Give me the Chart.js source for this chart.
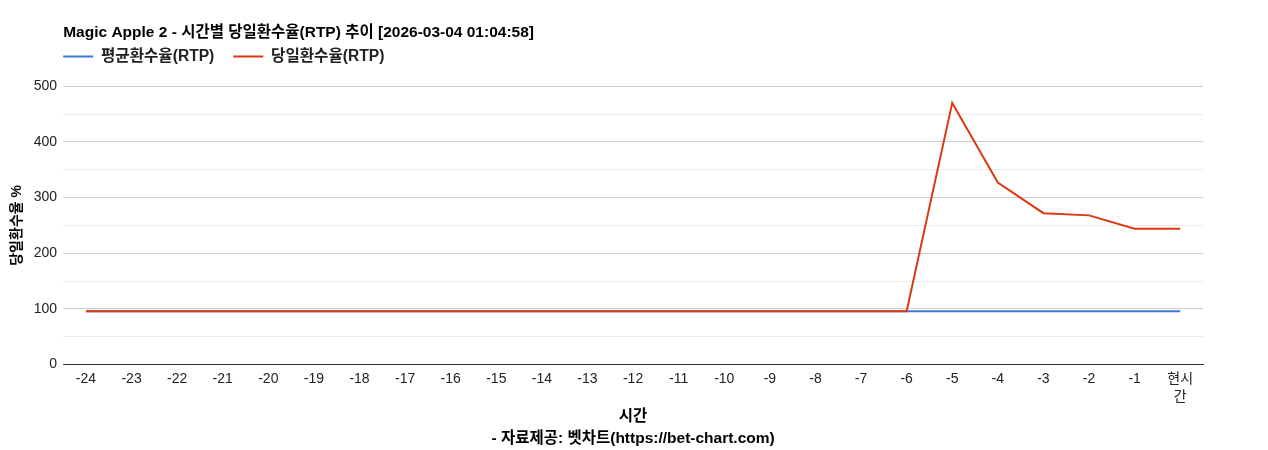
<!DOCTYPE html>
<html>
<head>
<meta charset="utf-8">
<script src="https://cdn.jsdelivr.net/npm/chart.js@4"></script>
<style>
  html, body { margin: 0; padding: 0; background: #fff; }
  #wrap { width: 1268px; height: 450px; }
</style>
</head>
<body>
<div id="wrap"><canvas id="rtpChart"></canvas></div>
<script>
const hours = ['-24','-23','-22','-21','-20','-19','-18','-17','-16','-15','-14','-13','-12',
               '-11','-10','-9','-8','-7','-6','-5','-4','-3','-2','-1',['현시','간']];
const avgRtp = [96,96,96,96,96,96,96,96,96,96,96,96,96,96,96,96,96,96,96,96,96,96,96,96,96];
const todayRtp = [96,96,96,96,96,96,96,96,96,96,96,96,96,96,96,96,96,96,96,470,327,272,268,244,244];
const yTicks = [0, 100, 200, 300, 400, 500];

const font = "Arial, 'Liberation Sans', 'Noto Sans CJK KR', sans-serif";
const boldFont = "Arial, 'Liberation Sans', 'Noto Sans CJK KR', sans-serif";

// extra room below the legend, and legend flush with the plot's left edge
const legendTweak = {
    id: 'legendTweak',
    beforeInit(chart) {
        const fit = chart.legend.fit;
        chart.legend.fit = function () {
            fit.bind(chart.legend)();
            this.height += 12;
        };
    },
    afterLayout(chart) {
        chart.legend.left -= 6;
    }
};

const ctx = document.getElementById('rtpChart').getContext('2d');
new Chart(ctx, {
    type: 'line',
    data: {
        labels: hours,
        datasets: [
            {
                label: '평균환수율(RTP)',
                data: avgRtp,
                borderColor: '#3f76d8',
                backgroundColor: '#3f76d8',
                borderWidth: 2,
                pointRadius: 0,
                tension: 0,
                order: 2
            },
            {
                label: '당일환수율(RTP)',
                data: todayRtp,
                borderColor: '#dc3912',
                backgroundColor: '#dc3912',
                borderWidth: 2,
                pointRadius: 0,
                tension: 0,
                order: 1
            }
        ]
    },
    plugins: [legendTweak],
    options: {
        responsive: true,
        maintainAspectRatio: false,
        animation: false,
        layout: { padding: { top: 23, right: 65, bottom: 0, left: 5 } },
        plugins: {
            title: {
                display: true,
                fullSize: false,
                align: 'start',
                text: 'Magic Apple 2 - 시간별 당일환수율(RTP) 추이 [2026-03-04 01:04:58]',
                color: '#000',
                font: { family: boldFont, size: 15.5, weight: 'bold' },
                padding: { top: 0, bottom: 1 }
            },
            legend: {
                fullSize: false,
                align: 'start',
                labels: {
                    color: '#222',
                    boxWidth: 30,
                    boxHeight: 2,
                    padding: 6,
                    font: { family: boldFont, size: 15.6, weight: 'bold' },
                    sort: (a, b) => a.datasetIndex - b.datasetIndex,
                    generateLabels: chart => {
                        const items = Chart.defaults.plugins.legend.labels.generateLabels(chart);
                        items.forEach(it => { it.text = it.text + '   '; it.lineWidth = 0; });
                        return items;
                    }
                }
            },
            tooltip: { enabled: false }
        },
        scales: {
            x: {
                offset: true,
                grid: { display: false, drawTicks: false },
                border: { color: '#333' },
                ticks: {
                    color: '#222',
                    font: { family: font, size: 14, lineHeight: 1.3 },
                    maxRotation: 0,
                    autoSkip: false,
                    padding: 5
                },
                title: {
                    display: true,
                    text: ['시간', '- 자료제공: 벳차트(https://bet-chart.com)'],
                    color: '#000',
                    font: { family: boldFont, size: 15.5, weight: 'bold', lineHeight: 1.42 },
                    padding: { top: -5, bottom: 0 }
                }
            },
            y: {
                min: 0,
                max: 500,
                border: { display: false },
                grid: {
                    drawTicks: false,
                    color: c => c.tick.value === 0 ? '#333' : (c.tick.value % 100 === 0 ? '#cccccc' : '#ebebeb')
                },
                afterBuildTicks: axis => {
                    const t = [];
                    yTicks.forEach((v, i) => {
                        t.push({ value: v });
                        if (i < yTicks.length - 1) t.push({ value: v + 50 });
                    });
                    axis.ticks = t;
                },
                ticks: {
                    color: '#222',
                    font: { family: font, size: 14 },
                    padding: 6,
                    callback: v => (v % 100 === 0 ? v : '')
                },
                title: {
                    display: true,
                    text: '당일환수율 %',
                    color: '#000',
                    font: { family: boldFont, size: 14, weight: 'bold' },
                    padding: { bottom: 2 }
                }
            }
        }
    }
});
</script>
</body>
</html>
